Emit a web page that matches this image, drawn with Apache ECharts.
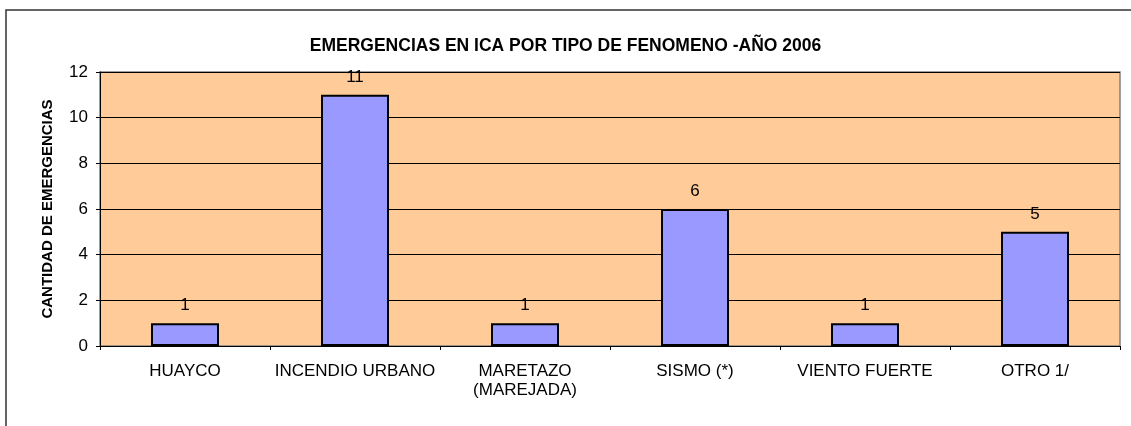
<!DOCTYPE html>
<html><head><meta charset="utf-8">
<script src="https://cdn.jsdelivr.net/npm/echarts@6/dist/echarts.min.js"></script>
<style>html,body{margin:0;padding:0;background:#fff}#c{width:1131px;height:426px}</style>
</head><body><div id="c"></div>
<script>
const categories = ['HUAYCO','INCENDIO URBANO','MARETAZO\n(MAREJADA)','SISMO (*)','VIENTO FUERTE','OTRO 1/'];
const values = [1, 11, 1, 6, 1, 5];
const yTicks = {min: 0, max: 12, interval: 2};
const titleText = 'EMERGENCIAS EN ICA POR TIPO DE FENOMENO -AÑO 2006';
const yName = 'CANTIDAD DE EMERGENCIAS';

const font = 'Liberation Sans, Arial, sans-serif';
const chart = echarts.init(document.getElementById('c'), null, {renderer: 'canvas'});
chart.setOption({
  animation: false,
  backgroundColor: '#fff',
  graphic: [{
    type: 'rect', shape: {x: 6, y: 10, width: 1140, height: 430},
    style: {fill: 'none', stroke: '#333', lineWidth: 1.5}, silent: true, z: -1
  }],
  title: {
    text: titleText, left: 'center', top: 32,
    textStyle: {fontFamily: font, fontSize: 17.5, fontWeight: 'bold', color: '#000'}
  },
  grid: {
    left: 100, right: 11, top: 72, bottom: 80,
    show: true, backgroundColor: '#FFCC99', borderColor: '#808080', borderWidth: 1.5
  },
  xAxis: {
    type: 'category', data: categories,
    axisLine: {lineStyle: {color: '#000', width: 1}},
    axisTick: {show: true, length: 4, lineStyle: {color: '#000'}},
    axisLabel: {fontFamily: font, fontSize: 17, color: '#000', margin: 16, lineHeight: 19, interval: 0}
  },
  yAxis: {
    type: 'value', min: yTicks.min, max: yTicks.max, interval: yTicks.interval,
    name: yName, nameLocation: 'middle', nameGap: 45,
    nameTextStyle: {fontFamily: font, fontSize: 15, fontWeight: 'bold', color: '#000'},
    axisLine: {show: true, lineStyle: {color: '#000', width: 1}},
    axisTick: {show: true, length: 4, lineStyle: {color: '#000'}},
    axisLabel: {fontFamily: font, fontSize: 17, color: '#000', margin: 12},
    splitLine: {show: true, lineStyle: {color: '#000', width: 1}}
  },
  series: [{
    type: 'bar', data: values, barWidth: '40%',
    itemStyle: {color: '#9999FF', borderColor: '#000', borderWidth: 2},
    label: {show: true, position: 'top', distance: 9, fontFamily: font, fontSize: 17, color: '#000'}
  }]
});
</script></body></html>
